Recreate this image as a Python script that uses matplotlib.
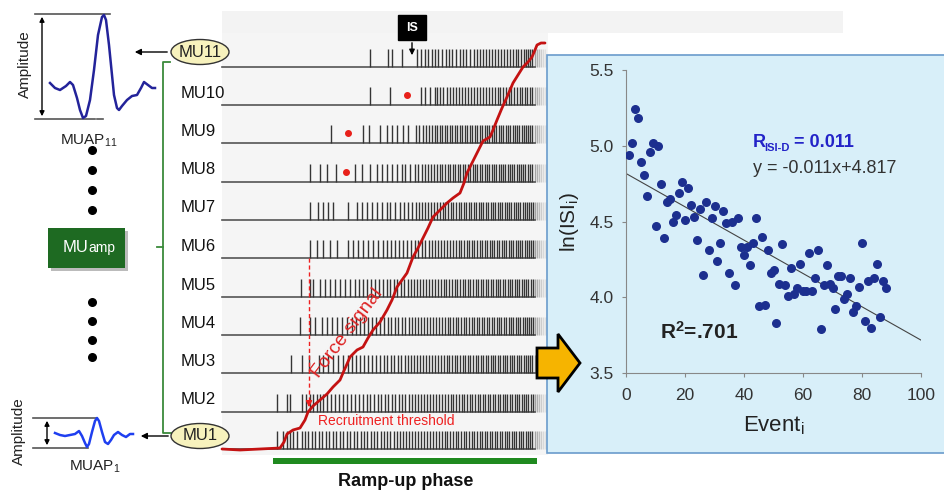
import matplotlib
matplotlib.use("Agg")
import matplotlib.pyplot as plt
from matplotlib.patches import Rectangle, Ellipse, FancyArrow

plt.rcParams['font.family'] = ['Liberation Sans', 'DejaVu Sans']
plt.rcParams['mathtext.fontset'] = 'custom'
plt.rcParams['mathtext.rm'] = 'Liberation Sans'
plt.rcParams['mathtext.it'] = 'Liberation Sans:italic'
plt.rcParams['mathtext.bf'] = 'Liberation Sans:bold'

W, H = 944, 491

###############
# Raster data (x in pixels of the raster strip)
###############
mu_names = ["MU11", "MU10", "MU9", "MU8", "MU7", "MU6", "MU5", "MU4", "MU3", "MU2", "MU1"]
mu_base = [67, 105, 143, 182, 220, 258, 297, 335, 373, 412, 449]

spikes = {
    "MU11": [370, 388, 392, 402, 417, 421, 425, 428, 432, 435, 438, 442, 446, 449, 452, 456, 460, 463,
             466, 470, 474, 477, 480, 483, 486, 489, 492, 495, 498, 501, 504, 507, 510, 513, 516, 518,
             521, 524, 526, 528, 530, 532],
    "MU10": [370, 390, 421, 425, 430, 435, 437, 440, 443, 447, 450, 453, 456, 459, 462, 465, 468, 471,
             474, 477, 480, 483, 486, 489, 492, 495, 498, 500, 503, 506, 509, 511, 514, 517, 520, 522,
             525, 527, 530, 532],
    "MU9": [331, 363, 369, 380, 387, 392, 397, 403, 408, 416, 419, 423, 426, 429, 432, 435, 437, 440,
            442, 445, 447, 450, 452, 455, 457, 460, 462, 465, 467, 470, 472, 475, 477, 480, 482, 485,
            487, 489, 492, 494, 496, 499, 501, 503, 506, 508, 510, 513, 515, 517, 519, 522, 524, 526,
            528, 530, 532],
    "MU8": [310, 320, 327, 336, 355, 362, 370, 377, 382, 387, 392, 397, 402, 405, 410, 415, 418, 422,
            425, 428, 431, 434, 437, 440, 442, 445, 448, 450, 453, 455, 458, 460, 463, 465, 468, 470,
            473, 475, 477, 480, 482, 485, 487, 489, 492, 494, 496, 499, 501, 503, 505, 508, 510, 512,
            514, 517, 519, 521, 523, 525, 528, 530, 532],
    "MU7": [310, 318, 323, 328, 333, 348, 357, 362, 367, 372, 377, 382, 387, 390, 395, 400, 404, 408,
            412, 416, 419, 422, 425, 428, 431, 434, 437, 440, 443, 445, 448, 451, 453, 456, 459, 461,
            464, 466, 469, 471, 474, 476, 479, 481, 483, 486, 488, 491, 493, 495, 498, 500, 502, 505,
            507, 509, 511, 514, 516, 518, 520, 523, 525, 527, 529, 531, 533],
    "MU6": [310, 317, 323, 330, 337, 348, 353, 358, 363, 368, 373, 378, 383, 387, 391, 395, 399, 403,
            407, 411, 415, 418, 422, 425, 429, 432, 435, 438, 441, 444, 447, 450, 453, 456, 459, 461,
            464, 467, 469, 472, 474, 477, 480, 482, 485, 487, 490, 492, 494, 497, 499, 502, 504, 506,
            509, 511, 513, 516, 518, 520, 522, 525, 527, 529, 531, 533],
    "MU5": [301, 310, 313, 320, 325, 330, 335, 340, 345, 350, 355, 359, 363, 367, 371, 375, 379, 383,
            387, 390, 394, 397, 401, 404, 408, 411, 414, 417, 420, 423, 426, 429, 432, 435, 438, 441,
            444, 446, 449, 452, 455, 457, 460, 463, 465, 468, 470, 473, 476, 478, 481, 483, 486, 488,
            491, 493, 496, 498, 500, 503, 505, 508, 510, 512, 515, 517, 519, 522, 524, 526, 528, 531, 533],
    "MU4": [300, 310, 315, 322, 327, 332, 337, 342, 347, 352, 356, 360, 364, 368, 372, 376, 380, 384,
            388, 391, 395, 398, 402, 405, 409, 412, 415, 418, 421, 424, 427, 430, 433, 436, 439, 442,
            445, 448, 450, 453, 456, 458, 461, 464, 466, 469, 472, 474, 477, 479, 482, 484, 487, 489,
            492, 494, 497, 499, 501, 504, 506, 509, 511, 513, 516, 518, 520, 523, 525, 527, 529, 531, 533],
    "MU3": [291, 302, 309, 319, 323, 328, 333, 338, 343, 348, 352, 356, 360, 364, 368, 372, 376, 380,
            384, 387, 391, 394, 398, 401, 405, 408, 411, 414, 417, 420, 423, 426, 429, 432, 435, 438,
            441, 444, 447, 449, 452, 455, 457, 460, 463, 465, 468, 470, 473, 476, 478, 481, 483, 486,
            488, 491, 493, 495, 498, 500, 503, 505, 507, 510, 512, 514, 517, 519, 521, 524, 526, 528,
            530, 532],
    "MU2": [277, 287, 290, 302, 306, 310, 313, 317, 320, 323, 327, 331, 335, 339, 343, 347, 351, 355,
            359, 363, 367, 370, 374, 378, 381, 385, 388, 392, 395, 399, 402, 405, 409, 412, 415, 418,
            421, 424, 427, 430, 433, 436, 439, 442, 445, 448, 451, 453, 456, 459, 462, 464, 467, 470,
            472, 475, 478, 480, 483, 485, 488, 490, 493, 495, 498, 500, 503, 505, 507, 510, 512, 515,
            517, 519, 522, 524, 526, 528, 531, 533],
    "MU1": [277, 283, 287, 290, 293, 297, 302, 305, 308, 312, 315, 319, 322, 326, 329, 333, 336, 340,
            343, 347, 350, 354, 357, 361, 364, 367, 371, 374, 377, 381, 384, 387, 390, 394, 397, 400,
            403, 406, 409, 412, 415, 418, 421, 424, 427, 430, 433, 436, 439, 442, 445, 447, 450, 453,
            456, 458, 461, 464, 466, 469, 472, 474, 477, 480, 482, 485, 487, 490, 492, 495, 497, 500,
            502, 505, 507, 509, 512, 514, 516, 519, 521, 523, 526, 528, 530, 532],
}
fade_spikes = [535, 537, 539, 541, 543, 545]
fade_alpha = [0.45, 0.38, 0.3, 0.22, 0.15, 0.1]

# missed-discharge markers (x, y)
red_dot_x = [407, 348, 346]
red_dot_y = [95, 133, 172]

# force signal trace
force_x = [222, 240, 260, 280, 284, 287, 293, 300, 305, 308, 313, 320, 327, 333, 340, 343, 347, 350,
           357, 363, 368, 373, 380, 387, 392, 397, 402, 407, 410, 413, 418, 423, 428, 433, 440, 447,
           453, 460, 464, 467, 472, 477, 483, 490, 493, 497, 502, 507, 510, 513, 518, 523, 528, 532,
           535, 537, 541, 545]
force_y = [449, 450, 449, 448, 442, 434, 430, 428, 420, 412, 406, 400, 394, 387, 380, 373, 364, 357,
           350, 347, 338, 330, 322, 310, 300, 287, 280, 273, 265, 257, 248, 238, 228, 217, 210, 203,
           198, 193, 183, 173, 163, 153, 141, 137, 130, 120, 108, 97, 90, 83, 75, 67, 62, 57,
           50, 45, 43, 43]

# MUAP waveforms
muap11_x = [50, 55, 60, 66, 70, 73, 77, 80, 83, 86, 90, 94, 98, 102, 104, 106, 109, 112, 114, 117,
            119, 122, 127, 132, 137, 141, 144, 148, 152, 155]
muap11_y = [83, 88, 90, 86, 82, 85, 98, 110, 118, 116, 100, 70, 35, 17, 15, 20, 45, 75, 95, 108,
            110, 106, 100, 96, 95, 88, 82, 85, 88, 88]
muap1_x = [55, 60, 65, 70, 75, 79, 82, 85, 87, 89, 92, 95, 97, 99, 102, 105, 108, 111, 114, 118,
           122, 126, 130, 133]
muap1_y = [433, 435, 436, 435, 434, 431, 436, 443, 447, 444, 432, 421, 418, 421, 432, 442, 444, 440,
           435, 432, 435, 437, 434, 434]

###############
# Scatter data
###############
ln_isi = [4.94, 5.02, 5.24, 5.18, 4.89, 4.81, 4.67, 4.96, 5.02, 4.47, 5.00, 4.75, 4.39, 4.63, 4.65,
          4.50, 4.54, 4.69, 4.76, 4.51, 4.72, 4.61, 4.53, 4.38, 4.58, 4.15, 4.63, 4.31, 4.52, 4.60,
          4.24, 4.36, 4.57, 4.49, 4.16, 4.50, 4.08, 4.52, 4.33, 4.28, 4.33, 4.21, 4.36, 4.52, 3.94,
          4.40, 3.95, 4.31, 4.16, 4.18, 3.83, 4.09, 4.35, 4.08, 4.01, 4.19, 4.02, 4.06, 4.22, 4.04,
          4.04, 4.29, 4.04, 4.13, 4.31, 3.79, 4.08, 4.21, 4.09, 4.06, 3.92, 4.14, 4.14, 3.99, 4.02,
          4.13, 3.90, 3.94, 4.07, 4.36, 3.84, 4.11, 3.80, 4.13, 4.22, 3.87, 4.11, 4.06]
events = list(range(1, len(ln_isi) + 1))
fit_slope = -0.011
fit_intercept = 4.817
fit_range = [0, 100]


def draw_raster(ax):
    ax.add_patch(Rectangle((222, 11), 621, 22, facecolor="#f3f3f3", edgecolor="none", zorder=0))
    ax.add_patch(Rectangle((222, 33), 326, 422, facecolor="#f5f5f5", edgecolor="none", zorder=0))
    for name, base in zip(mu_names, mu_base):
        ax.plot([222, 535], [base, base], color="#555555", lw=1.2, zorder=2)
        ax.vlines(spikes[name], base - 18, base, colors="#353535", lw=1.0, zorder=2)
        for fx, fa in zip(fade_spikes, fade_alpha):
            ax.vlines(fx, base - 18, base, colors="#3c3c3c", lw=1.0, alpha=fa, zorder=2)
        if name in ("MU11", "MU1"):
            yc = base - 15 if name == "MU11" else base - 13
            ax.add_patch(Ellipse((200, yc), 58, 25, facecolor="#f7f2bd", edgecolor="#333333",
                                 lw=1.0, zorder=3))
            ax.text(200, yc, name, fontsize=12, ha="center", va="center", color="#222222", zorder=4)
        else:
            ax.text(181, base - 12, name, fontsize=12, ha="left", va="center", color="#111111")
    ax.scatter(red_dot_x, red_dot_y, s=16, color="#e8201a", zorder=4)
    ax.plot(force_x, force_y, color="#c41212", lw=2, zorder=5, solid_capstyle="round")

    # recruitment threshold
    ax.plot([309, 309], [258, 401], color="#ee2020", lw=1, ls=(0, (3, 2)), zorder=4)
    ax.annotate("", xy=(309, 410), xytext=(309, 400),
                arrowprops=dict(arrowstyle="-|>", color="#ee2020", lw=1, mutation_scale=9), zorder=4)
    ax.text(318, 421, "Recruitment threshold", fontsize=10, color="#ee2020", va="center", ha="left")
    ax.text(347, 333, "Force signal", fontsize=14, color="#dd2222", rotation=53,
            ha="center", va="center", zorder=4)

    # IS marker
    ax.add_patch(Rectangle((398, 15), 28, 25, facecolor="black", edgecolor="black", zorder=4))
    ax.text(412, 27.5, "IS", color="white", fontsize=9, fontweight="bold", ha="center", va="center",
            zorder=5)
    ax.annotate("", xy=(412, 58), xytext=(412, 40),
                arrowprops=dict(arrowstyle="-|>", color="black", lw=1, mutation_scale=8), zorder=4)

    # ramp-up bar
    ax.add_patch(Rectangle((273, 458), 264, 6, facecolor="#1f8a1f", edgecolor="none"))
    ax.text(406, 482, "Ramp-up phase", fontsize=13, fontweight="bold", ha="center", va="center",
            color="#111111")


def draw_left(ax):
    green = "#3a8a3a"
    ax.plot([170, 163, 163, 171], [62, 62, 433, 433], color=green, lw=1.3)
    ax.plot([157, 163], [247, 247], color=green, lw=1.3)

    # MUAP11
    ax.plot([35, 110], [14, 14], color="#555555", lw=1.2)
    ax.plot([35, 95], [119, 119], color="#555555", lw=1.2)
    ax.plot([97, 103], [119, 119], color="#555555", lw=1.2)
    ax.annotate("", xy=(42, 14), xytext=(42, 119),
                arrowprops=dict(arrowstyle="<|-|>", color="black", lw=1, mutation_scale=7))
    ax.plot(muap11_x, muap11_y, color="#23239a", lw=1.8)
    ax.text(25, 64, "Amplitude", rotation=90, fontsize=11, ha="center", va="center", color="#222222")
    ax.text(89, 141, "MUAP$_{11}$", fontsize=11, ha="center", va="center", color="#222222")
    ax.annotate("", xy=(132, 52), xytext=(170, 52),
                arrowprops=dict(arrowstyle="-|>", color="black", lw=1, mutation_scale=9))

    # MUAP1
    ax.plot([33, 97], [418, 418], color="#555555", lw=1.2)
    ax.plot([33, 88], [448, 448], color="#555555", lw=1.2)
    ax.annotate("", xy=(47, 418), xytext=(47, 448),
                arrowprops=dict(arrowstyle="<|-|>", color="black", lw=1, mutation_scale=7))
    ax.plot(muap1_x, muap1_y, color="#1f3ff0", lw=1.8)
    ax.text(19, 431, "Amplitude", rotation=90, fontsize=11, ha="center", va="center", color="#222222")
    ax.text(95, 467, "MUAP$_1$", fontsize=11, ha="center", va="center", color="#222222")
    ax.annotate("", xy=(138, 436), xytext=(171, 436),
                arrowprops=dict(arrowstyle="-|>", color="black", lw=1, mutation_scale=9))

    # dots and MUamp box
    ax.scatter([92] * 8, [150, 170, 190, 210, 302, 321, 340, 357], s=30, color="black")
    ax.add_patch(Rectangle((51, 231), 77, 40, facecolor="#bbbbbb", edgecolor="none"))
    ax.add_patch(Rectangle((48, 228), 77, 40, facecolor="#1e6a22", edgecolor="none"))
    ax.text(88, 252, "MU", fontsize=12, color="white", ha="right", va="baseline")
    ax.text(88, 252, "amp", fontsize=10, color="white", ha="left", va="baseline")


def draw_scatter(fig, ax):
    ax.add_patch(Rectangle((547, 55), 400, 398, facecolor="#d8eff9", edgecolor="#6a9bcc", lw=1.2,
                           zorder=1))
    ax.add_patch(FancyArrow(537, 363, 21, 0, width=30, head_width=58, head_length=22,
                            length_includes_head=False, facecolor="#f6b400", edgecolor="black",
                            lw=2, zorder=6))

    sax = fig.add_axes([626 / W, 1 - 373 / H, 295 / W, 303 / H])
    sax.patch.set_alpha(0)
    sax.scatter(events, ln_isi, s=30, color="#1c2f8f", zorder=3)
    fit_y = [fit_slope * x + fit_intercept for x in fit_range]
    sax.plot(fit_range, fit_y, color="#444444", lw=0.8, zorder=2)
    sax.set_xlim(0, 100)
    sax.set_ylim(3.5, 5.5)
    sax.set_xticks([0, 20, 40, 60, 80, 100])
    sax.set_yticks([3.5, 4.0, 4.5, 5.0, 5.5])
    sax.set_yticklabels(["3.5", "4.0", "4.5", "5.0", "5.5"])
    for side in ("top", "right"):
        sax.spines[side].set_visible(False)
    for side in ("left", "bottom"):
        sax.spines[side].set_color("#888888")
    sax.tick_params(colors="#888888", labelcolor="#333333", labelsize=12.5, length=3)
    sax.tick_params(axis="x", pad=8)
    sax.tick_params(axis="y", pad=6)
    sax.set_ylabel("ln(ISI$_\\mathrm{i}$)", fontsize=15, color="#222222", labelpad=6)
    sax.set_xlabel("Event$_\\mathrm{i}$", fontsize=16, color="#222222", labelpad=8)
    sax.text(43, 5.02, "R", fontsize=13, fontweight="bold", color="#2323c8", va="center")
    sax.text(47.0, 4.985, "ISI-D", fontsize=8, fontweight="bold", color="#2323c8", va="center")
    sax.text(57, 5.02, "= 0.011", fontsize=13, fontweight="bold", color="#2323c8", va="center")
    sax.text(43, 4.85, "y = -0.011x+4.817", fontsize=13, color="#333333", va="center")
    sax.text(11.5, 3.77, "R$^\\mathbf{2}$=.701", fontsize=15, fontweight="bold", color="#222222",
             va="center")
    return sax


def main():
    fig = plt.figure(figsize=(W / 100, H / 100), dpi=100)
    ax = fig.add_axes([0, 0, 1, 1])
    ax.set_xlim(0, W)
    ax.set_ylim(H, 0)
    ax.axis("off")
    draw_raster(ax)
    draw_left(ax)
    draw_scatter(fig, ax)
    fig.savefig("out.png", dpi=100)


if __name__ == "__main__":
    main()
